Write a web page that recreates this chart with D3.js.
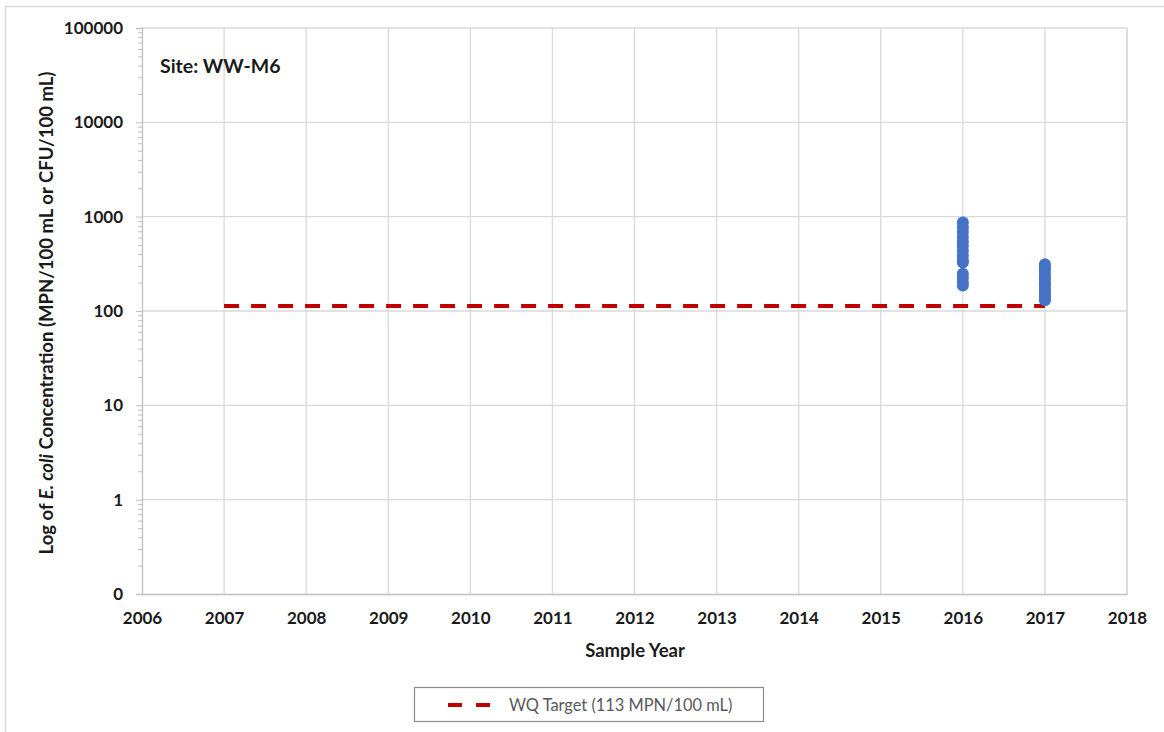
<!DOCTYPE html>
<html>
<head>
<meta charset="utf-8">
<script src="https://cdn.jsdelivr.net/npm/d3@7/dist/d3.min.js"></script>
<style>
  html, body { margin: 0; padding: 0; background: #fff; }
  svg { display: block; }
  text { font-family: Lato, "Open Sans", "Liberation Sans", sans-serif; }
</style>
</head>
<body>
<svg id="chart" width="1164" height="732"></svg>
<script>
// E. coli samples at site WW-M6 (MPN/100 mL)
const years2016 = 2016;
const values2016 = [866, 770, 687, 613, 548, 488, 435, 387, 345, 326, 248, 225, 201, 186];
const years2017 = 2017;
const values2017 = [313, 291, 272, 248, 231, 219, 201, 187, 172, 161, 150, 141, 130];

// Water quality target line
const targetYears = [2007, 2017];
const targetValue = 113;

const xTicks = [2006, 2007, 2008, 2009, 2010, 2011, 2012, 2013, 2014, 2015, 2016, 2017, 2018];
const yTicks = [0.1, 1, 10, 100, 1000, 10000, 100000];
const yTickLabels = ["0", "1", "10", "100", "1000", "10000", "100000"];

const svg = d3.select("#chart");
const W = 1164, H = 732;
const plot = { left: 142, right: 1127, top: 28, bottom: 594 };
const ink = "#1a1a1a";

// outer chart frame (only top and left edges show)
svg.append("line").attr("x1", 5.5).attr("x2", W).attr("y1", 6.5).attr("y2", 6.5)
  .attr("stroke", "#d9d9d9").attr("stroke-width", 1.5);
svg.append("line").attr("x1", 5.5).attr("x2", 5.5).attr("y1", 6.5).attr("y2", H)
  .attr("stroke", "#d9d9d9").attr("stroke-width", 1.5);

const x = d3.scaleLinear().domain([2006, 2018]).range([plot.left, plot.right]);
const y = d3.scaleLog().domain([0.1, 100000]).range([plot.bottom, plot.top]);

// gridlines
const grid = svg.append("g");
grid.selectAll(".vg").data(xTicks.slice(1)).join("line")
  .attr("x1", d => x(d)).attr("x2", d => x(d))
  .attr("y1", plot.top).attr("y2", plot.bottom)
  .attr("stroke", "#d9d9d9").attr("stroke-width", 1.3);
grid.selectAll(".hg").data(yTicks.slice(1)).join("line")
  .attr("x1", plot.left).attr("x2", plot.right)
  .attr("y1", d => y(d)).attr("y2", d => y(d))
  .attr("stroke", "#d9d9d9").attr("stroke-width", 1.3);

// minor ticks on the y axis
const minor = [];
for (let e = -1; e < 5; e++) for (let m = 2; m <= 9; m++) minor.push(m * Math.pow(10, e));
svg.append("g").attr("transform", `translate(${plot.left},0)`)
  .call(d3.axisLeft(y).tickValues(minor).tickSize(4).tickFormat(""))
  .call(g => g.select(".domain").remove())
  .call(g => g.selectAll("line").attr("stroke", "#bfbfbf"));

// y axis
svg.append("g").attr("transform", `translate(${plot.left},0)`)
  .call(d3.axisLeft(y).tickValues(yTicks).tickSize(6).tickPadding(13)
    .tickFormat((d, i) => yTickLabels[i]))
  .call(g => g.select(".domain").attr("stroke", "#bfbfbf").attr("stroke-width", 1.3))
  .call(g => g.selectAll("line").attr("stroke", "#bfbfbf"))
  .call(g => g.selectAll("text").attr("font-size", 17).attr("font-weight", "bold")
    .attr("fill", ink).attr("font-family", "Lato, 'Open Sans', sans-serif"));

// x axis
svg.append("g").attr("transform", `translate(0,${plot.bottom})`)
  .call(d3.axisBottom(x).tickValues(xTicks).tickSize(0).tickPadding(18).tickFormat(d3.format("d")))
  .call(g => g.select(".domain").attr("stroke", "#bfbfbf").attr("stroke-width", 1.3))
  .call(g => g.selectAll("text").attr("font-size", 17).attr("font-weight", "bold")
    .attr("fill", ink).attr("font-family", "Lato, 'Open Sans', sans-serif"));

// right plot border
svg.append("line").attr("x1", plot.right).attr("x2", plot.right)
  .attr("y1", plot.top).attr("y2", plot.bottom).attr("stroke", "#d9d9d9").attr("stroke-width", 1.3);

// target line
const line = d3.line().x(d => x(d)).y(() => y(targetValue));
svg.append("path").datum(targetYears).attr("d", line)
  .attr("fill", "none").attr("stroke", "#c00000").attr("stroke-width", 4)
  .attr("stroke-dasharray", "15,12");

// sample points
const pts = values2016.map(v => ({ yr: years2016, v }))
  .concat(values2017.map(v => ({ yr: years2017, v })));
svg.append("g").selectAll("circle").data(pts).join("circle")
  .attr("cx", d => x(d.yr)).attr("cy", d => y(d.v)).attr("r", 6)
  .attr("fill", "#4472c4");

// site label
svg.append("text").attr("x", 160).attr("y", 73).text("Site: WW-M6")
  .attr("font-size", 19.5).attr("font-weight", "bold").attr("fill", ink);

// axis titles
svg.append("text").attr("x", 635).attr("y", 657).attr("text-anchor", "middle")
  .attr("font-size", 18.5).attr("font-weight", "bold").attr("fill", ink)
  .text("Sample Year");

const yt = svg.append("text").attr("transform", "translate(53,313) rotate(-90)")
  .attr("text-anchor", "middle").attr("font-size", 18.5).attr("font-weight", "bold")
  .attr("fill", ink);
yt.append("tspan").text("Log of ");
yt.append("tspan").attr("font-style", "italic").text("E. coli");
yt.append("tspan").text(" Concentration (MPN/100 mL or CFU/100 mL)");

// legend
const lg = svg.append("g");
lg.append("rect").attr("x", 414.5).attr("y", 687.5).attr("width", 349).attr("height", 34)
  .attr("fill", "#fff").attr("stroke", "#8c8c8c").attr("stroke-width", 1.2);
lg.append("line").attr("x1", 448).attr("x2", 492).attr("y1", 705).attr("y2", 705)
  .attr("stroke", "#c00000").attr("stroke-width", 4).attr("stroke-dasharray", "14,14");
lg.append("text").attr("x", 509).attr("y", 710.5).attr("font-size", 16.4)
  .attr("fill", "#595959").text("WQ Target (113 MPN/100 mL)");
</script>
</body>
</html>
